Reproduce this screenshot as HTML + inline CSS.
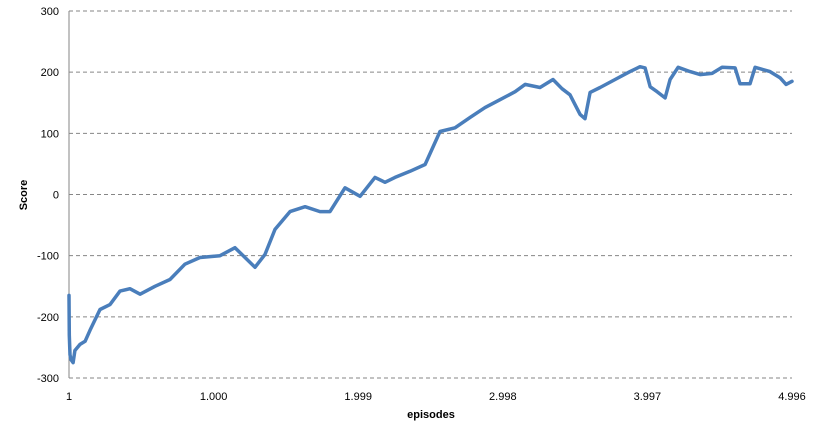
<!DOCTYPE html>
<html><head><meta charset="utf-8"><style>
body{margin:0;background:#fff;}
svg text{font-family:"Liberation Sans",sans-serif;font-size:11px;fill:#000;}
</style></head><body>
<svg id="chart" width="818" height="431" xmlns="http://www.w3.org/2000/svg">
<g id="grid"></g><g id="axes"></g><g id="series"></g>
<text x="0" y="0" transform="translate(27,195) rotate(-90)" text-anchor="middle" font-weight="bold">Score</text>
<text x="431" y="418" text-anchor="middle" font-weight="bold">episodes</text>
</svg>
<script>
const episodes=[1,3,8,15,29,42,77,112,146,215,284,353,422,492,595,699,802,906,1044,1148,1217,1286,1355,1424,1528,1632,1735,1804,1908,2012,2115,2184,2253,2357,2461,2564,2668,2772,2875,2979,3083,3152,3255,3345,3407,3462,3497,3532,3566,3601,3670,3774,3877,3946,3981,4016,4064,4119,4154,4209,4292,4361,4444,4513,4603,4637,4706,4741,4844,4913,4955,4996];
const scores=[-165,-230,-262,-270,-275,-255,-245,-240,-222,-188,-180,-158,-154,-163,-150,-139,-114,-103,-100,-87,-103,-119,-98,-57,-28,-20,-28,-28,11,-3,28,20,28,38,49,103,109,126,142,155,168,180,175,188,173,163,147,131,124,167,175,188,201,209,207,176,168,158,188,208,201,196,198,208,207,181,181,208,201,191,180,185];
const yTicks=[300,200,100,0,-100,-200,-300];
const xTickLabels=["1","1.000","1.999","2.998","3.997","4.996"];
const xTickValues=[1,1000,1999,2998,3997,4996];
const X0=69,X1=792,Y0=11,Y1=378;
const xs=e=>X0+(e-1)/(4996-1)*(X1-X0);
const ys=v=>Y1-(v+300)/600*(Y1-Y0);
const NS="http://www.w3.org/2000/svg";
function mk(t,a,p){const e=document.createElementNS(NS,t);for(const k in a)e.setAttribute(k,a[k]);p.appendChild(e);return e;}
const grid=document.getElementById('grid'),axes=document.getElementById('axes'),ser=document.getElementById('series');
yTicks.forEach(v=>{
 const l=mk('line',{x1:X0,x2:X1,y1:ys(v),y2:ys(v),stroke:'#868686','stroke-dasharray':'4,3','stroke-width':1},grid);
 
 
 const t=mk('text',{x:X0-10,y:ys(v)+4,'text-anchor':'end'},axes);t.textContent=v;
 
 
});
const ax=mk('line',{x1:X0,x2:X0,y1:Y0,y2:Y1,stroke:'#868686'},axes);


xTickValues.forEach((v,i)=>{
 const t=mk('text',{x:xs(v),y:400,'text-anchor':'middle'},axes);t.textContent=xTickLabels[i];
 
 
});
const pts=episodes.map((e,i)=>xs(e).toFixed(1)+','+ys(scores[i]).toFixed(1)).join(' ');
const pl=mk('polyline',{points:pts,fill:'none',stroke:'#4a7ebb','stroke-width':3.5,'stroke-linejoin':'round','stroke-linecap':'round'},ser);


</script>
</body></html>
